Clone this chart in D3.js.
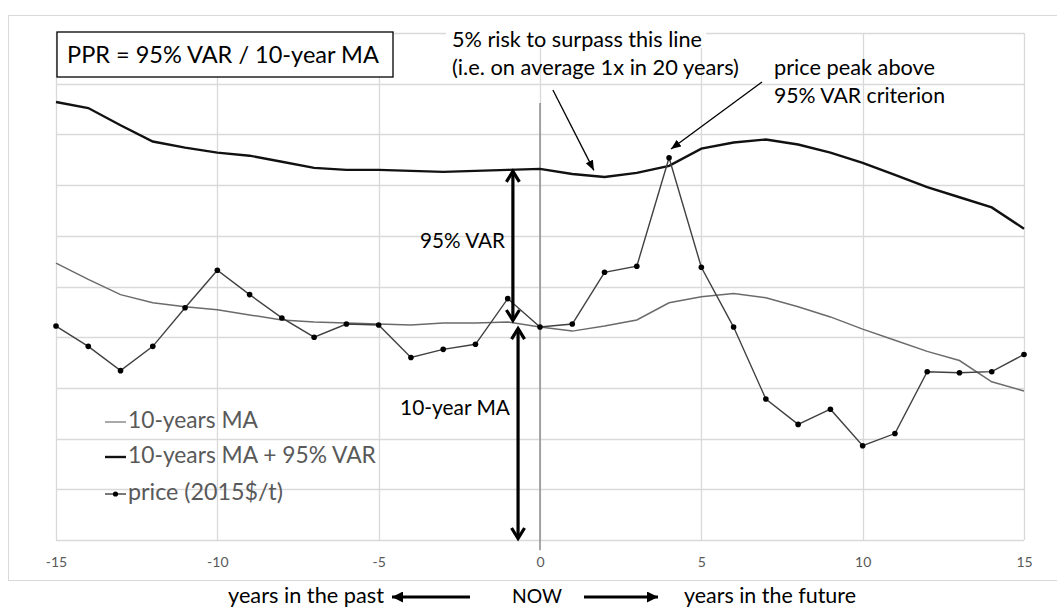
<!DOCTYPE html>
<html><head><meta charset="utf-8">
<script src="https://cdn.jsdelivr.net/npm/d3@7"></script>
<style>
body{margin:0;background:#fff}
svg{display:block}
text{font-family:Lato,"Open Sans",sans-serif}
</style>
</head><body>
<svg id="c" width="1057" height="609"></svg>
<script>
// ---------------- data ----------------
const years  = [-15,-14,-13,-12,-11,-10,-9,-8,-7,-6,-5,-4,-3,-2,-1,0,1,2,3,4,5,6,7,8,9,10,11,12,13,14,15];
const ma     = [273,257,242,234,230,227,222,217,215,214,213,212,214,214,215,210,206,211,217,234,240,243,239,230,220,208,197,186,177,156,147];
const maVar  = [432,426,409,393,387,382,379,373,367,365,365,364,363,364,365,366,361,358,362,369,386,392,395,390,382,372,360,348,338,328,307];
const price  = [211,191,167,191,229,266,242,219,200,213,212,180,188,193,238,210,213,264,270,377,269,210,139,114,129,93,105,166,165,166,183];
const xTicks = [-15,-10,-5,0,5,10,15];
const yGrid  = [0,50,100,150,200,250,300,350,400,450,500];
const legendLabels = ["10-years MA","10-years MA + 95% VAR","price (2015$/t)"];

// ---------------- setup ----------------
const svg = d3.select("#c");
const x = d3.scaleLinear().domain([-15,15]).range([56,1024]);
const y = d3.scaleLinear().domain([0,500]).range([540,33]);
const GRID = "#d9d9d9";

function fit(sel, target){
  const w = sel.node().getComputedTextLength();
  const fs = parseFloat(sel.attr("font-size"));
  sel.attr("font-size", (fs*target/w).toFixed(2));
  return sel;
}

// outer chart frame
svg.append("rect").attr("x",8.5).attr("y",15.5).attr("width",1070).attr("height",565)
  .attr("fill","none").attr("stroke",GRID).attr("stroke-width",1);

// gridlines
svg.append("g").selectAll("line").data(yGrid).join("line")
  .attr("x1",x(-15)).attr("x2",x(15)).attr("y1",d=>Math.round(y(d))+0.5).attr("y2",d=>Math.round(y(d))+0.5)
  .attr("stroke",GRID).attr("stroke-width",1.3);
svg.append("g").selectAll("line").data(xTicks).join("line")
  .attr("y1",y(0)).attr("y2",y(500)).attr("x1",d=>Math.round(x(d))+0.5).attr("x2",d=>Math.round(x(d))+0.5)
  .attr("stroke",GRID).attr("stroke-width",1.3);

// x axis labels
const ax = svg.append("g").attr("transform",`translate(0,${y(0)})`)
  .call(d3.axisBottom(x).tickValues(xTicks).tickSize(0).tickPadding(17).tickFormat(d=>String(d)));
ax.select(".domain").remove();
ax.selectAll("text").attr("fill","#595959").attr("font-size",14).attr("font-family","Lato,'Open Sans',sans-serif");

// NOW line
svg.append("line").attr("x1",x(0)).attr("x2",x(0)).attr("y1",y(431)).attr("y2",y(-10))
  .attr("stroke","#8c8c8c").attr("stroke-width",1.5);

// series
const pts = arr => years.map((yr,i)=>({yr, v:arr[i]}));
const line = d3.line().x(d=>x(d.yr)).y(d=>y(d.v));
svg.append("path").datum(pts(ma)).attr("d",line).attr("fill","none").attr("stroke","#6b6b6b").attr("stroke-width",1.5);
svg.append("path").datum(pts(maVar)).attr("d",line).attr("fill","none").attr("stroke","#111").attr("stroke-width",2.4);
svg.append("path").datum(pts(price)).attr("d",line).attr("fill","none").attr("stroke","#404040").attr("stroke-width",1.4);
svg.append("g").selectAll("circle").data(pts(price)).join("circle")
  .attr("cx",d=>x(d.yr)).attr("cy",d=>y(d.v)).attr("r",2.8).attr("fill","#000");

// double arrows (95% VAR and 10-year MA)
const iM1 = years.indexOf(-1), i0 = years.indexOf(0);
function vArrow(xv, vTop, vBot, headTop, headBot){
  const px = x(xv), yt = y(vTop), yb = y(vBot);
  const g = svg.append("g").attr("stroke","#000").attr("stroke-width",3.2).attr("fill","none").attr("stroke-linejoin","miter");
  g.append("line").attr("x1",px).attr("x2",px).attr("y1",yt+2).attr("y2",yb-2);
  if(headTop) g.append("polyline").attr("points",`${px-6.5},${yt+12} ${px},${yt+1.5} ${px+6.5},${yt+12}`);
  if(headBot) g.append("polyline").attr("points",`${px-6.5},${yb-12} ${px},${yb-1.5} ${px+6.5},${yb-12}`);
}
vArrow(-0.84, maVar[iM1], ma[iM1], true, true);
vArrow(-0.68, ma[i0], 0, true, true);

// pointer arrows
const defs = svg.append("defs");
defs.append("marker").attr("id","tri").attr("viewBox","0 0 10 8").attr("refX",10).attr("refY",4)
  .attr("markerWidth",10).attr("markerHeight",8).attr("markerUnits","userSpaceOnUse").attr("orient","auto")
  .append("path").attr("d","M0,0 L10,4 L0,8 Z").attr("fill","#000");
defs.append("marker").attr("id","triB").attr("viewBox","0 0 10 10").attr("refX",10).attr("refY",5)
  .attr("markerWidth",11).attr("markerHeight",11).attr("markerUnits","userSpaceOnUse").attr("orient","auto")
  .append("path").attr("d","M0,0 L10,5 L0,10 Z").attr("fill","#000");
function pointer(x1,v1,x2,v2){
  svg.append("line").attr("x1",x(x1)).attr("y1",y(v1)).attr("x2",x(x2)).attr("y2",y(v2))
    .attr("stroke","#000").attr("stroke-width",1.3).attr("marker-end","url(#tri)");
}
pointer(0.40,443.8,1.67,364.5);
pointer(6.88,451.7,4.06,385.6);

// annotation texts
function txt(s, px, py, target, opts={}){
  const t = svg.append("text").attr("x",px).attr("y",py).attr("font-size",18)
    .attr("fill",opts.fill||"#000").attr("text-anchor",opts.anchor||"start").text(s);
  return fit(t,target);
}
// 5% risk text with white background
const gRisk = svg.append("g");
const bg = gRisk.append("rect").attr("fill","#fff");
const r1 = gRisk.append("text").attr("x",452).attr("y",47).attr("font-size",18).text("5% risk to surpass this line"); fit(r1,250);
const r2 = gRisk.append("text").attr("x",452).attr("y",75).attr("font-size",18).text("(i.e. on average 1x in 20 years)"); fit(r2,287);
bg.attr("x",446).attr("y",28).attr("width",r1.node().getComputedTextLength()+10).attr("height",20);

txt("price peak above",774,75,161);
txt("95% VAR criterion",774,103,171);
txt("95% VAR",505,248,85,{anchor:"end"});
txt("10-year MA",510,415,110,{anchor:"end"});

// PPR box
svg.append("rect").attr("x",57).attr("y",32).attr("width",336).attr("height",45)
  .attr("fill","#fff").attr("stroke","#000").attr("stroke-width",1.3);
txt("PPR = 95% VAR / 10-year MA",67,63,312);

// legend
const legY = [422,457,494], legW = [130,248,155];
const leg = svg.append("g");
legendLabels.forEach((lab,i)=>{
  const t = leg.append("text").attr("x",128).attr("y",legY[i]+6).attr("font-size",20).attr("fill","#595959").text(lab);
  fit(t,legW[i]);
});
leg.append("line").attr("x1",105).attr("x2",126).attr("y1",legY[0]).attr("y2",legY[0]).attr("stroke","#8c8c8c").attr("stroke-width",1.5);
leg.append("line").attr("x1",105).attr("x2",126).attr("y1",legY[1]).attr("y2",legY[1]).attr("stroke","#111").attr("stroke-width",2.4);
leg.append("line").attr("x1",105).attr("x2",126).attr("y1",legY[2]).attr("y2",legY[2]).attr("stroke","#404040").attr("stroke-width",1.4);
leg.append("circle").attr("cx",115.5).attr("cy",legY[2]).attr("r",2.6).attr("fill","#000");

// bottom caption
txt("years in the past",228,603,156);
txt("NOW",537,603,50,{anchor:"middle"});
txt("years in the future",684,603,172);
function hArrow(x1,x2,yy){
  svg.append("line").attr("x1",x1).attr("x2",x2).attr("y1",yy).attr("y2",yy)
    .attr("stroke","#000").attr("stroke-width",3).attr("marker-end","url(#triB)");
}
hArrow(470,392,597);
hArrow(584,658,597);
</script>
</body></html>
